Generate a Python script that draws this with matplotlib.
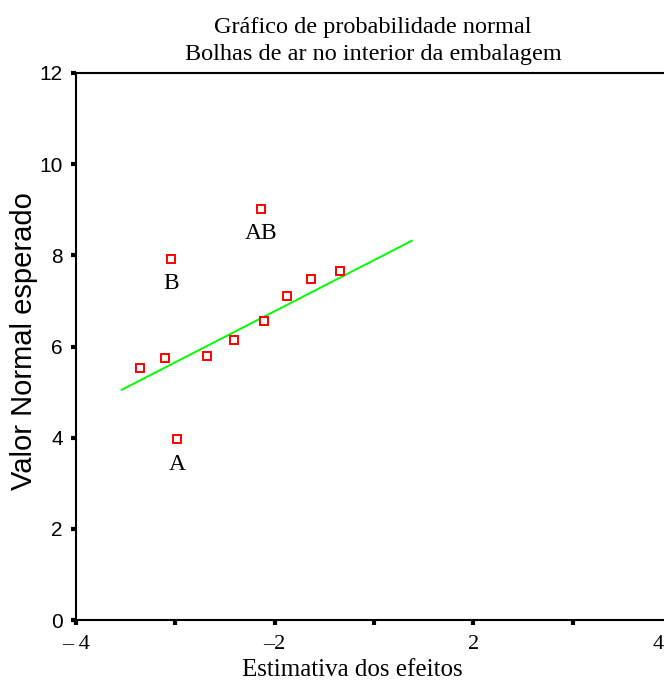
import numpy as np
import matplotlib.pyplot as plt

# estimativas dos efeitos (x) e valor normal esperado (y)
efeitos = [-3.36, -3.10, -2.68, -2.41, -2.11, -1.88, -1.63, -1.34, -3.04, -2.14, -2.98]
esperado = [5.53, 5.74, 5.80, 6.14, 6.57, 7.10, 7.49, 7.66, 7.93, 9.02, 3.97]
rotulos = ['', '', '', '', '', '', '', '', 'B', 'AB', 'A']

# reta de referencia
reta_x = [-3.54, -0.62]
reta_y = [5.05, 8.32]

xticks = [-4, -3, -2, -1, 0, 1, 2]
xtick_labels = ['\u2013 4', '', '\u20132', '', '2', '', '']
yticks = [0, 2, 4, 6, 8, 10, 12]

serif = 'Liberation Serif'
sans = 'Liberation Sans'

fig = plt.figure(figsize=(6.64, 6.82), dpi=100)
ax = fig.add_axes([76/664, 62/682, 616/664, 547/682])

ax.plot(reta_x, reta_y, color='#00ff00', lw=1.4, zorder=2)
ax.plot(efeitos, esperado, ls='none', marker='s', ms=6, mfc='white',
        mec='#ff0000', mew=1.4, zorder=3)
for x, y, r in zip(efeitos, esperado, rotulos):
    if r:
        ax.annotate(r, (x, y), xytext=(0, -10.5), textcoords='offset points',
                    ha='center', va='top', family=serif, fontsize=17)

ax.set_xlim(-4, 2.2)
ax.set_ylim(0, 12)
ax.set_xticks(xticks)
ax.set_xticklabels(xtick_labels, family=serif, fontsize=16)
ax.set_yticks(yticks)
ax.set_yticklabels([str(v) for v in yticks], family=sans, fontsize=15)
ax.tick_params(direction='out', length=3.5, width=3)
ax.tick_params(axis='x', pad=7)
ax.tick_params(axis='y', pad=6)
for s in ax.spines.values():
    s.set_linewidth(1.5)

# o "4" fica no limite da figura; escrito a parte, um pouco para dentro
ax.annotate('4', (2, 0), xytext=(-6, -10.5), textcoords='offset points',
            ha='right', va='top', family=serif, fontsize=16, annotation_clip=False)

ax.set_xlabel('Estimativa dos efeitos', family=serif, fontsize=18, va='baseline')
ax.xaxis.set_label_coords(0.448, -0.1024)
ax.set_ylabel('Valor Normal esperado', family=sans, fontsize=21, va='center')
ax.yaxis.set_label_coords(-0.084, 0.51)
fig.text(0.5617, 1 - 33/682, 'Gráfico de probabilidade normal',
         ha='center', va='baseline', family=serif, fontsize=17.5)
fig.text(0.5617, 1 - 60/682, 'Bolhas de ar no interior da embalagem',
         ha='center', va='baseline', family=serif, fontsize=17.5)

plt.savefig('out.png', dpi=100)
